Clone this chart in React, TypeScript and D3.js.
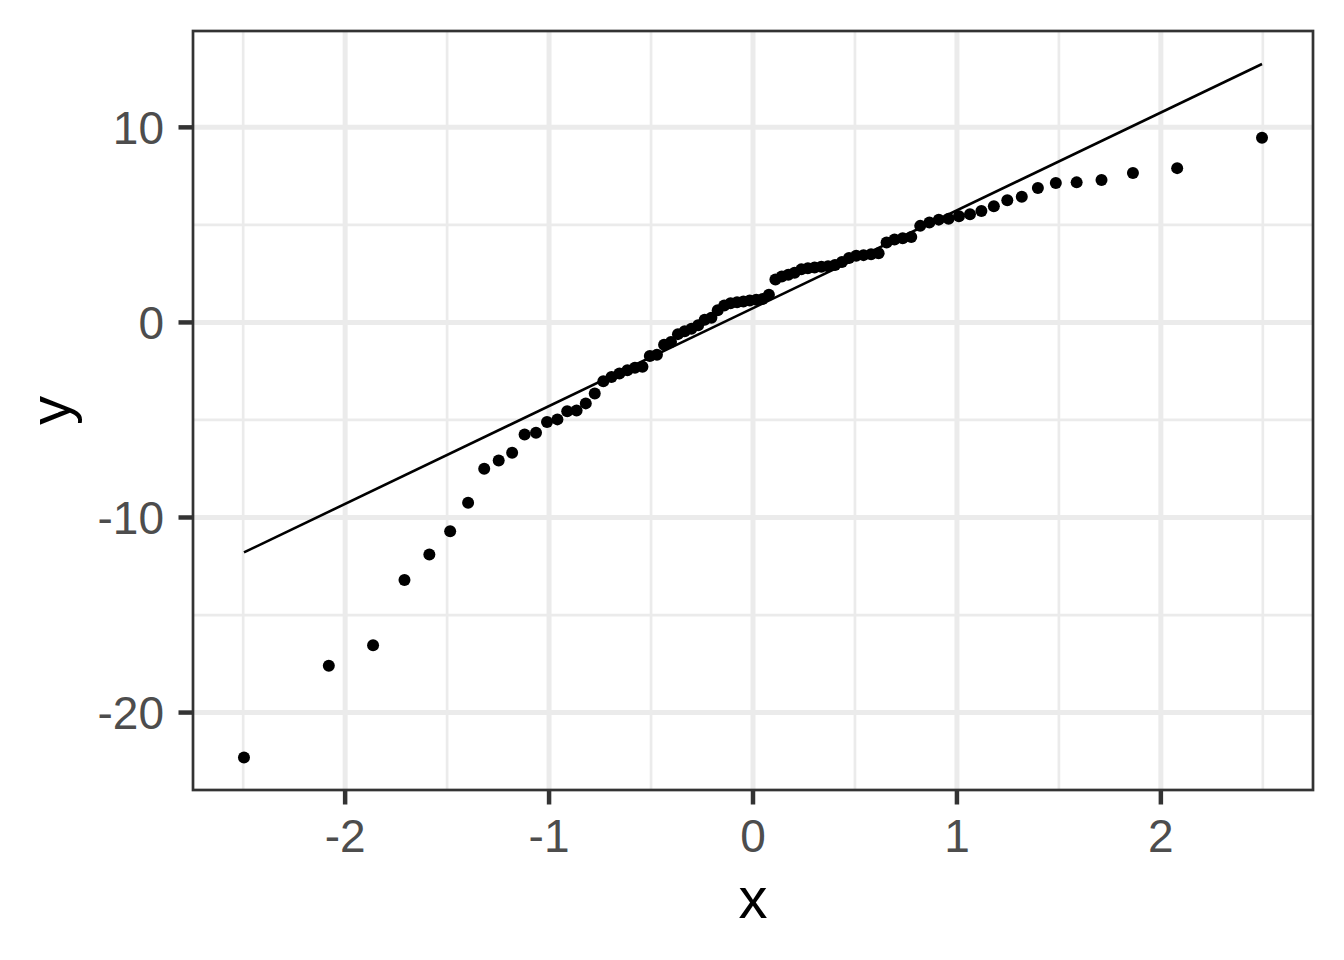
import React, { useRef, useEffect } from 'react';
import { select, scaleLinear, line } from 'd3';

// theoretical normal quantiles (80 points)
const theoretical = [
  -2.496, -2.080, -1.863, -1.709, -1.587, -1.485, -1.397, -1.318, -1.247, -1.181,
  -1.120, -1.064, -1.010, -0.959, -0.911, -0.865, -0.820, -0.776, -0.734, -0.694,
  -0.655, -0.616, -0.579, -0.542, -0.506, -0.471, -0.436, -0.402, -0.368, -0.335,
  -0.302, -0.269, -0.237, -0.204, -0.173, -0.141, -0.110, -0.078, -0.047, -0.016,
  0.016, 0.047, 0.078, 0.110, 0.141, 0.173, 0.204, 0.237, 0.269, 0.302,
  0.335, 0.368, 0.402, 0.436, 0.471, 0.506, 0.542, 0.579, 0.616, 0.655,
  0.694, 0.734, 0.776, 0.820, 0.865, 0.911, 0.959, 1.010, 1.064, 1.120,
  1.181, 1.247, 1.318, 1.397, 1.485, 1.587, 1.709, 1.863, 2.080, 2.496,
];

// sample values (sorted)
const sample = [
  -22.3, -17.6, -16.55, -13.2, -11.9, -10.7, -9.25, -7.5, -7.08, -6.68,
  -5.74, -5.66, -5.11, -4.97, -4.55, -4.52, -4.15, -3.64, -3.01, -2.8,
  -2.62, -2.45, -2.32, -2.27, -1.72, -1.66, -1.15, -1.0, -0.6, -0.45,
  -0.32, -0.15, 0.14, 0.24, 0.62, 0.87, 0.98, 1.03, 1.07, 1.12,
  1.16, 1.2, 1.42, 2.2, 2.35, 2.45, 2.55, 2.72, 2.78, 2.82,
  2.85, 2.88, 2.95, 3.1, 3.3, 3.42, 3.45, 3.5, 3.55, 4.1,
  4.25, 4.32, 4.38, 4.95, 5.12, 5.27, 5.32, 5.44, 5.55, 5.71,
  5.95, 6.26, 6.44, 6.89, 7.15, 7.18, 7.3, 7.66, 7.91, 9.47,
];

// reference line endpoints
const lineX = [-2.496, 2.496];
const lineY = [-11.79, 13.25];

const xTicks = [-2, -1, 0, 1, 2];
const xMinor = [-2.5, -1.5, -0.5, 0.5, 1.5, 2.5];
const yTicks = [-20, -10, 0, 10];
const yMinor = [-15, -5, 5];

function App() {
  const ref = useRef(null);

  useEffect(() => {
    const width = 1344;
    const height = 960;
    const left = 193, right = 1313, top = 31, bottom = 790;
    const font = "'Liberation Sans', Arial, Helvetica, sans-serif";

    const x = scaleLinear().domain([-2.746, 2.746]).range([left, right]);
    const y = scaleLinear().domain([-23.97, 14.94]).range([bottom, top]);

    const svg = select(ref.current);
    svg.selectAll('*').remove();
    svg.attr('width', width).attr('height', height);

    svg.append('rect').attr('width', width).attr('height', height).attr('fill', 'white');

    const grid = svg.append('g');
    grid.selectAll('.vminor').data(xMinor).enter().append('line')
      .attr('x1', d => x(d)).attr('x2', d => x(d)).attr('y1', top).attr('y2', bottom)
      .attr('stroke', '#EBEBEB').attr('stroke-width', 2.7);
    grid.selectAll('.hminor').data(yMinor).enter().append('line')
      .attr('y1', d => y(d)).attr('y2', d => y(d)).attr('x1', left).attr('x2', right)
      .attr('stroke', '#EBEBEB').attr('stroke-width', 2.7);
    grid.selectAll('.vmajor').data(xTicks).enter().append('line')
      .attr('x1', d => x(d)).attr('x2', d => x(d)).attr('y1', top).attr('y2', bottom)
      .attr('stroke', '#EBEBEB').attr('stroke-width', 5);
    grid.selectAll('.hmajor').data(yTicks).enter().append('line')
      .attr('y1', d => y(d)).attr('y2', d => y(d)).attr('x1', left).attr('x2', right)
      .attr('stroke', '#EBEBEB').attr('stroke-width', 5);

    svg.append('g').selectAll('circle')
      .data(theoretical)
      .enter()
      .append('circle')
      .attr('cx', d => x(d))
      .attr('cy', (d, i) => y(sample[i]))
      .attr('r', 6)
      .attr('fill', 'black');

    const ln = line().x(d => x(d[0])).y(d => y(d[1]));
    svg.append('path')
      .attr('d', ln(lineX.map((d, i) => [d, lineY[i]])))
      .attr('stroke', 'black').attr('stroke-width', 2.6).attr('fill', 'none');

    svg.append('rect')
      .attr('x', left).attr('y', top).attr('width', right - left).attr('height', bottom - top)
      .attr('fill', 'none').attr('stroke', '#333333').attr('stroke-width', 2.7);

    // x axis ticks + labels
    svg.append('g').selectAll('line').data(xTicks).enter().append('line')
      .attr('x1', d => x(d)).attr('x2', d => x(d)).attr('y1', bottom).attr('y2', bottom + 14.5)
      .attr('stroke', '#333333').attr('stroke-width', 4.5);
    svg.append('g').selectAll('text').data(xTicks).enter().append('text')
      .attr('x', d => x(d)).attr('y', 852)
      .attr('text-anchor', 'middle')
      .attr('font-family', font).attr('font-size', 46).attr('fill', '#4D4D4D')
      .text(d => String(d));

    // y axis ticks + labels
    svg.append('g').selectAll('line').data(yTicks).enter().append('line')
      .attr('y1', d => y(d)).attr('y2', d => y(d)).attr('x1', left - 14.5).attr('x2', left)
      .attr('stroke', '#333333').attr('stroke-width', 4.5);
    svg.append('g').selectAll('text').data(yTicks).enter().append('text')
      .attr('x', 164).attr('y', d => y(d))
      .attr('dy', '0.36em')
      .attr('text-anchor', 'end')
      .attr('font-family', font).attr('font-size', 46).attr('fill', '#4D4D4D')
      .text(d => String(d));

    svg.append('text')
      .attr('x', (left + right) / 2).attr('y', 918)
      .attr('text-anchor', 'middle')
      .attr('font-family', font).attr('font-size', 58).attr('fill', 'black')
      .text('x');

    svg.append('text')
      .attr('transform', `translate(70, ${(top + bottom) / 2}) rotate(-90)`)
      .attr('text-anchor', 'middle')
      .attr('font-family', font).attr('font-size', 58).attr('fill', 'black')
      .text('y');
  }, []);

  return (
    <div>
      <svg ref={ref} style={{ position: 'absolute', left: 0, top: 0, display: 'block' }} />
    </div>
  );
}

export default App;
